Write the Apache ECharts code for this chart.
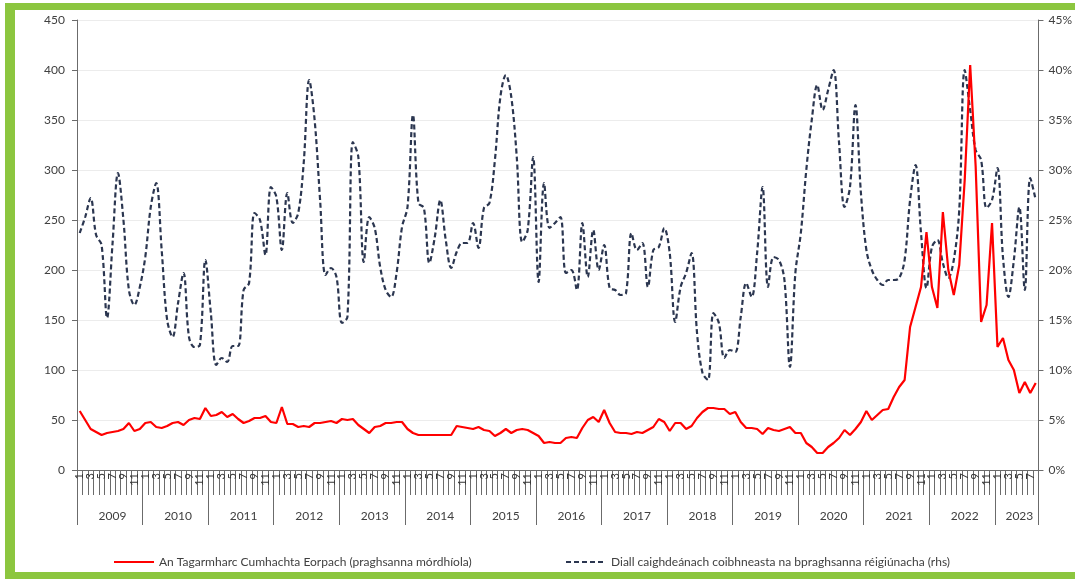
<!DOCTYPE html>
<html>
<head>
<meta charset="utf-8">
<script src="https://cdn.jsdelivr.net/npm/echarts@6/dist/echarts.min.js"></script>
<style>
  body { margin: 0; background: #fff; }
  #frame { position: absolute; left: 5px; top: 3px; width: 1080px; height: 562px;
           border-left: 10px solid #8cc63f; border-top: 7px solid #8cc63f; border-bottom: 7px solid #8cc63f; }
  #chart { position: absolute; left: 0; top: 0; width: 1075px; height: 579px; }
</style>
</head>
<body>
<div id="frame"></div>
<div id="chart"></div>
<script>
// first month Jan 2009, last month Aug 2023
const years = ['2009', '2010', '2011', '2012', '2013', '2014', '2015', '2016', '2017', '2018', '2019', '2020', '2021', '2022', '2023'];
const monthsShown = 176;

// An Tagarmharc Cumhachta Eorpach (left axis)
const benchmarkPrice = [
    59, 50, 41, 38, 35, 37, 38, 39, 41, 47, 39, 41,        // 2009
    47, 48, 43, 42, 44, 47, 48, 45, 50, 52, 51, 62,        // 2010
    54, 55, 58, 53, 56, 51, 47, 49, 52, 52, 54, 48,        // 2011
    47, 63, 46, 46, 43, 44, 43, 47, 47, 48, 49, 47,        // 2012
    51, 50, 51, 45, 41, 37, 43, 44, 47, 47, 48, 48,        // 2013
    41, 37, 35, 35, 35, 35, 35, 35, 35, 44, 43, 42,        // 2014
    41, 43, 40, 39, 34, 37, 41, 37, 40, 41, 40, 37,        // 2015
    34, 27, 28, 27, 27, 32, 33, 32, 42, 50, 53, 48,        // 2016
    60, 47, 38, 37, 37, 36, 38, 37, 40, 43, 51, 48,        // 2017
    39, 47, 47, 41, 44, 52, 58, 62, 62, 61, 61, 56,        // 2018
    58, 48, 42, 42, 41, 36, 42, 40, 39, 41, 43, 37,        // 2019
    37, 27, 23, 17, 17, 23, 27, 32, 40, 35, 41, 48,        // 2020
    59, 50, 55, 60, 61, 73, 83, 90, 143, 163, 183, 238,    // 2021
    183, 162, 258, 200, 175, 205, 290, 405, 304, 148, 165, 247, // 2022
    123, 132, 110, 100, 77, 88, 77, 87                     // 2023
];

// Diall caighdeánach coibhneasta (right axis, %)
const relativeDeviation = [
    23.7, 25.3, 27.2, 23.5, 22.5, 15.2, 22.6, 29.7, 25, 18, 16.5, 18.3,
    21.3, 26.3, 28.7, 22, 15, 13.3, 16.7, 19.7, 13.3, 12.3, 12.5, 21,
    15.7, 10.5, 11.2, 10.8, 12.4, 12.4, 18, 18.7, 25.7, 25, 21.5, 28.3,
    27.3, 22, 27.7, 24.7, 25.7, 30.7, 39, 35, 27, 19.5, 20.2, 19.3,
    14.7, 15.3, 32.8, 31.3, 20.8, 25.3, 24.2, 20.3, 18, 17.3, 19.7, 24.3,
    26.3, 35.5, 26.7, 26.2, 20.7, 23.3, 27, 23, 20.2, 21.8, 22.7, 22.7,
    24.7, 22.2, 26.2, 26.7, 31, 37.3, 39.5, 37.3, 31.3, 22.8, 24, 31.3,
    18.8, 28.7, 24.2, 24.7, 25.3, 19.7, 20, 18, 24.7, 19.3, 24, 20,
    22.5, 18.2, 18, 17.5, 17.7, 23.7, 22, 22.7, 18.3, 22, 22.3, 24.2,
    21.7, 14.8, 18.3, 19.7, 21.7, 13.7, 9.7, 9, 15.7, 14.7, 11.2, 12,
    11.8, 15.3, 18.7, 17.3, 21.7, 28.3, 18.3, 21.3, 21, 19, 10.3, 19.7,
    23.7, 30, 35, 38.5, 36, 38, 40, 32.7, 26.3, 28.3, 36.5, 27.7,
    22, 20, 19, 18.5, 19, 19, 19.2, 21, 27, 30.5, 23.7, 18.2,
    22.3, 23, 20.7, 19.2, 21, 26, 40, 36, 32, 31, 26.2, 27,
    30.2, 21.3, 17.3, 21, 26.3, 18, 29.2, 27
];

const leftTicks = { min: 0, max: 450, interval: 50 };
const rightTicks = { min: 0, max: 45, interval: 5 };

// month and year label for every category
let monthLabels = [];
let yearLabels = [];
years.forEach(function(y) {
    for (let m = 1; m <= 12; m++) {
        if (monthLabels.length < monthsShown) {
            monthLabels.push(String(m));
            yearLabels.push(y);
        }
    }
});

const seriesNames = [
    'An Tagarmharc Cumhachta Eorpach (praghsanna mórdhíola)',
    'Diall caighdeánach coibhneasta na bpraghsanna réigiúnacha (rhs)'
];

const fontName = 'Lato';
const axisGrey = '#6b6b6b';
const textGrey = '#404040';

let legendBase = {
    top: 551,
    itemWidth: 40,
    itemHeight: 10,
    itemStyle: { opacity: 0 },
    textStyle: { color: textGrey, fontSize: 12, fontFamily: fontName }
};

let chart = echarts.init(document.getElementById('chart'));
let option = {
    animation: false,
    textStyle: { fontFamily: fontName },
    grid: { left: 77, right: 35, top: 20, bottom: 109 },
    legend: [
        Object.assign({ data: [seriesNames[0]], left: 108 }, legendBase),
        Object.assign({ data: [seriesNames[1]], left: 560 }, legendBase)
    ],
    xAxis: [{
        type: 'category',
        data: monthLabels,
        boundaryGap: true,
        axisLine: { show: true, lineStyle: { color: axisGrey, width: 1 } },
        axisTick: { show: true, interval: 0, length: 25, lineStyle: { color: axisGrey } },
        axisLabel: { interval: 1, rotate: 90, fontSize: 11, margin: 3, color: '#333' }
    }, {
        type: 'category',
        data: yearLabels,
        position: 'bottom',
        boundaryGap: true,
        axisLine: { show: false },
        axisTick: {
            show: true,
            interval: function(idx) { return idx % 12 === 0; },
            length: 55,
            lineStyle: { color: axisGrey }
        },
        axisLabel: {
            interval: function(idx) { return idx % 12 === 6 || idx === 172; },
            margin: 40,
            fontSize: 12,
            color: textGrey
        }
    }],
    yAxis: [{
        type: 'value',
        min: leftTicks.min,
        max: leftTicks.max,
        interval: leftTicks.interval,
        axisLine: { show: true, lineStyle: { color: axisGrey } },
        axisTick: { show: true, length: 5, lineStyle: { color: axisGrey } },
        axisLabel: { fontSize: 12, color: textGrey, margin: 12 },
        splitLine: { lineStyle: { color: '#ececec' } }
    }, {
        type: 'value',
        min: rightTicks.min,
        max: rightTicks.max,
        interval: rightTicks.interval,
        position: 'right',
        axisLine: { show: true, lineStyle: { color: axisGrey } },
        axisTick: { show: true, length: 5, lineStyle: { color: axisGrey } },
        axisLabel: { fontSize: 12, color: textGrey, formatter: '{value}%', margin: 10 },
        splitLine: { show: false }
    }],
    series: [{
        name: seriesNames[0],
        type: 'line',
        xAxisIndex: 0,
        yAxisIndex: 0,
        data: benchmarkPrice,
        symbol: 'none',
        z: 3,
        lineStyle: { color: '#ff0000', width: 2.2 },
        itemStyle: { color: '#ff0000' }
    }, {
        name: seriesNames[1],
        type: 'line',
        xAxisIndex: 0,
        yAxisIndex: 1,
        data: relativeDeviation,
        symbol: 'none',
        smooth: 0.35,
        z: 2,
        lineStyle: { color: '#2b3650', width: 2.2, type: [5, 3] },
        itemStyle: { color: '#2b3650' }
    }]
};
chart.setOption(option);

window.addEventListener('resize', function() {
    chart.resize();
});
</script>
</body>
</html>
